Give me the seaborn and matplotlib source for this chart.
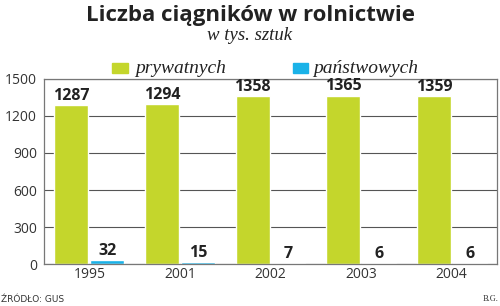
import matplotlib
matplotlib.use("Agg")
import matplotlib.pyplot as plt
import seaborn as sns
import pandas as pd
from matplotlib.patches import Rectangle

years = ["1995", "2001", "2002", "2003", "2004"]
prywatnych = [1287, 1294, 1358, 1365, 1359]
panstwowych = [32, 15, 7, 6, 6]
series_names = ["prywatnych", "państwowych"]
yticks = [0, 300, 600, 900, 1200, 1500]

green = "#c4d62c"
blue = "#1ab2e8"

df = pd.DataFrame({
    "rok": years * 2,
    "wartosc": prywatnych + panstwowych,
    "seria": [series_names[0]] * len(years) + [series_names[1]] * len(years),
})

sns.set_style("white")
plt.rcParams["font.family"] = ["Open Sans", "DejaVu Sans"]

fig = plt.figure(figsize=(5.0, 3.06), dpi=100)
ax = fig.add_axes([0.088, 0.137, 0.906, 0.605])

sns.barplot(data=df, x="rok", y="wartosc", hue="seria", palette=[green, blue],
            width=0.79, gap=0.05, ax=ax, legend=False, saturation=1)

ax.set_ylim(0, 1500)
ax.set_xlim(-0.5, 4.5)
ax.set_yticks(yticks)
ax.set_yticklabels([str(t) for t in yticks], fontsize=10, color="#333333")
ax.tick_params(axis="x", labelsize=10, colors="#333333", length=0, pad=2)
ax.tick_params(axis="y", length=0, pad=5)
ax.set_xlabel("")
ax.set_ylabel("")
for t in ax.get_xticklabels():
    t.set_color("#333333")
ax.grid(axis="y", color="#555555", linewidth=0.8)
ax.set_axisbelow(True)
for s in ax.spines.values():
    s.set_color("#777777")
    s.set_linewidth(0.9)

for cont in ax.containers:
    ax.bar_label(cont, fmt="%d", fontsize=11.5, fontweight="bold", color="#222222", padding=1)

fig.text(0.5, 0.95, "Liczba ciągników w rolnictwie", ha="center", va="center",
         fontsize=16, fontweight="bold", color="#222222")
fig.text(0.5, 0.883, "w tys. sztuk", ha="center", va="center", fontsize=13.5,
         style="italic", color="#222222", family=["Liberation Serif"])

# legend
lg_y = 1 - 68.5 / 306
fig.patches.append(Rectangle((112 / 500, 1 - 73 / 306), 16 / 500, 10 / 306,
                             transform=fig.transFigure, color=green, figure=fig))
fig.text(135 / 500, lg_y, series_names[0], ha="left", va="center", fontsize=14,
         style="italic", color="#222222", family=["Liberation Serif"])
fig.patches.append(Rectangle((293 / 500, 1 - 73 / 306), 15 / 500, 10 / 306,
                             transform=fig.transFigure, color=blue, figure=fig))
fig.text(313 / 500, lg_y, series_names[1], ha="left", va="center", fontsize=14,
         style="italic", color="#222222", family=["Liberation Serif"])

fig.text(0.002, 1 - 299 / 306, "ŹRÓDŁO: GUS", ha="left", va="center", fontsize=6.5,
         color="#333333", family=["DejaVu Sans"])
fig.text(0.997, 1 - 299 / 306, "B.G.", ha="right", va="center", fontsize=6, color="#333333",
         family=["Liberation Serif"])

fig.savefig("out.png", dpi=100)
